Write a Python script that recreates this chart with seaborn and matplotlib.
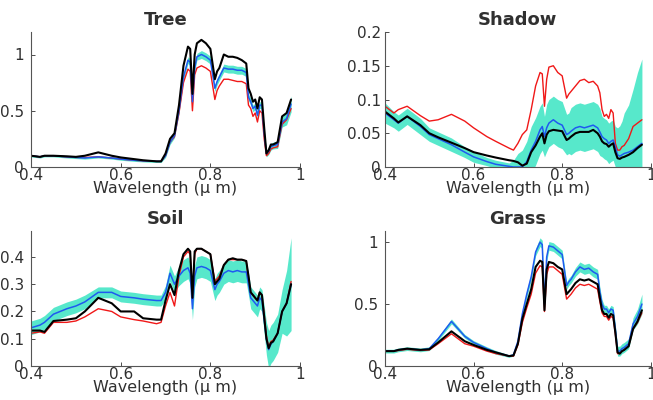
import numpy as np
import matplotlib
matplotlib.use("Agg")
import matplotlib.pyplot as plt
import seaborn as sns
from matplotlib.ticker import FuncFormatter

# common wavelength grid (micrometres)
wl = [0.40, 0.42, 0.43, 0.45, 0.48, 0.50, 0.52, 0.55, 0.58, 0.60,
      0.63, 0.65, 0.68, 0.69, 0.70, 0.71, 0.72, 0.73, 0.74, 0.75,
      0.755, 0.76, 0.765, 0.77, 0.78, 0.79, 0.80, 0.81, 0.815, 0.82,
      0.83, 0.84, 0.85, 0.86, 0.87, 0.88, 0.885, 0.89, 0.895, 0.90,
      0.905, 0.91, 0.915, 0.92, 0.925, 0.93, 0.935, 0.94, 0.95, 0.96,
      0.97, 0.98]

# Tree
tree_mean = [0.10, 0.09, 0.10, 0.10, 0.09, 0.085, 0.08, 0.09, 0.08, 0.07,
             0.06, 0.055, 0.05, 0.05, 0.10, 0.22, 0.28, 0.50, 0.80, 0.95,
             0.93, 0.58, 0.88, 0.98, 1.00, 0.98, 0.95, 0.70, 0.76, 0.80,
             0.88, 0.87, 0.87, 0.86, 0.86, 0.84, 0.62, 0.58, 0.52, 0.54,
             0.46, 0.55, 0.55, 0.30, 0.12, 0.14, 0.18, 0.19, 0.20, 0.40,
             0.43, 0.56]
tree_std = [0.01, 0.01, 0.01, 0.01, 0.01, 0.01, 0.01, 0.01, 0.01, 0.01,
            0.01, 0.01, 0.01, 0.01, 0.015, 0.02, 0.02, 0.02, 0.025, 0.03,
            0.03, 0.03, 0.03, 0.03, 0.035, 0.035, 0.035, 0.03, 0.03, 0.03,
            0.035, 0.035, 0.035, 0.035, 0.035, 0.035, 0.03, 0.03, 0.03, 0.03,
            0.03, 0.03, 0.03, 0.03, 0.03, 0.03, 0.03, 0.03, 0.035, 0.045,
            0.055, 0.07]
tree_red = [0.10, 0.09, 0.10, 0.10, 0.09, 0.085, 0.085, 0.09, 0.08, 0.07,
            0.06, 0.055, 0.05, 0.05, 0.10, 0.22, 0.27, 0.48, 0.75, 0.87,
            0.85, 0.50, 0.82, 0.88, 0.90, 0.88, 0.85, 0.60, 0.68, 0.72,
            0.78, 0.78, 0.77, 0.76, 0.76, 0.74, 0.55, 0.52, 0.45, 0.48,
            0.40, 0.50, 0.48, 0.25, 0.10, 0.12, 0.16, 0.17, 0.18, 0.38,
            0.42, 0.52]
tree_black = [0.10, 0.09, 0.10, 0.10, 0.095, 0.09, 0.10, 0.13, 0.10, 0.085,
              0.07, 0.06, 0.05, 0.05, 0.12, 0.25, 0.30, 0.55, 0.90, 1.07,
              1.05, 0.65, 1.00, 1.10, 1.13, 1.10, 1.05, 0.78, 0.85, 0.88,
              1.00, 0.98, 0.98, 0.97, 0.95, 0.92, 0.70, 0.65, 0.58, 0.60,
              0.52, 0.62, 0.60, 0.35, 0.12, 0.15, 0.20, 0.20, 0.22, 0.45,
              0.48, 0.60]

# Shadow
shadow_mean = [0.080, 0.070, 0.065, 0.075, 0.060, 0.048, 0.042, 0.033, 0.022, 0.015,
               0.008, 0.004, 0.001, 0.0, 0.0, 0.0, 0.008, 0.025, 0.038, 0.055,
               0.060, 0.045, 0.058, 0.065, 0.070, 0.065, 0.062, 0.048, 0.050, 0.053,
               0.058, 0.060, 0.058, 0.060, 0.062, 0.058, 0.052, 0.045, 0.042, 0.040,
               0.035, 0.038, 0.040, 0.030, 0.018, 0.016, 0.018, 0.020, 0.022, 0.025,
               0.030, 0.035]
shadow_std = [0.015, 0.012, 0.012, 0.012, 0.012, 0.010, 0.010, 0.010, 0.008, 0.008,
              0.006, 0.006, 0.005, 0.010, 0.020, 0.025, 0.030, 0.035, 0.035, 0.035,
              0.035, 0.030, 0.035, 0.035, 0.035, 0.035, 0.035, 0.030, 0.030, 0.035,
              0.035, 0.035, 0.035, 0.035, 0.035, 0.035, 0.035, 0.030, 0.030, 0.030,
              0.030, 0.030, 0.030, 0.030, 0.040, 0.045, 0.050, 0.060, 0.070, 0.090,
              0.110, 0.125]
shadow_red = [0.090, 0.080, 0.085, 0.090, 0.076, 0.068, 0.070, 0.078, 0.068, 0.058,
              0.045, 0.038, 0.028, 0.025, 0.035, 0.048, 0.055, 0.085, 0.120, 0.140,
              0.138, 0.090, 0.130, 0.148, 0.150, 0.140, 0.135, 0.102, 0.108, 0.112,
              0.120, 0.128, 0.130, 0.125, 0.127, 0.120, 0.110, 0.085, 0.075, 0.078,
              0.072, 0.085, 0.080, 0.035, 0.025, 0.025, 0.030, 0.032, 0.042, 0.060,
              0.065, 0.070]
shadow_black = [0.082, 0.072, 0.066, 0.075, 0.062, 0.050, 0.044, 0.036, 0.028, 0.022,
                0.017, 0.014, 0.010, 0.009, 0.007, 0.002, 0.005, 0.022, 0.032, 0.045,
                0.050, 0.035, 0.048, 0.053, 0.055, 0.054, 0.053, 0.040, 0.042, 0.045,
                0.050, 0.052, 0.052, 0.052, 0.055, 0.050, 0.045, 0.038, 0.035, 0.034,
                0.030, 0.033, 0.035, 0.022, 0.013, 0.012, 0.014, 0.015, 0.018, 0.022,
                0.028, 0.033]

# Soil
soil_mean = [0.14, 0.15, 0.16, 0.19, 0.21, 0.22, 0.235, 0.27, 0.27, 0.255,
             0.25, 0.245, 0.24, 0.24, 0.27, 0.34, 0.30, 0.33, 0.35, 0.36,
             0.34, 0.21, 0.33, 0.36, 0.365, 0.36, 0.35, 0.28, 0.30, 0.31,
             0.34, 0.35, 0.345, 0.35, 0.345, 0.345, 0.30, 0.25, 0.24, 0.23,
             0.22, 0.25, 0.24, 0.17, 0.10, 0.06, 0.08, 0.09, 0.12, 0.20,
             0.23, 0.30]
soil_std = [0.025, 0.025, 0.025, 0.025, 0.025, 0.025, 0.025, 0.02, 0.02, 0.02,
            0.02, 0.02, 0.02, 0.02, 0.025, 0.03, 0.03, 0.035, 0.04, 0.04,
            0.04, 0.04, 0.04, 0.04, 0.04, 0.04, 0.04, 0.04, 0.04, 0.04,
            0.04, 0.04, 0.04, 0.04, 0.04, 0.04, 0.04, 0.04, 0.04, 0.04,
            0.04, 0.04, 0.04, 0.05, 0.06, 0.07, 0.07, 0.07, 0.07, 0.08,
            0.12, 0.17]
soil_red = [0.12, 0.125, 0.12, 0.16, 0.16, 0.165, 0.18, 0.21, 0.20, 0.18,
            0.17, 0.165, 0.155, 0.16, 0.22, 0.27, 0.22, 0.33, 0.40, 0.42,
            0.41, 0.26, 0.41, 0.43, 0.43, 0.42, 0.41, 0.31, 0.32, 0.33,
            0.37, 0.39, 0.39, 0.39, 0.39, 0.385, 0.32, 0.27, 0.26, 0.25,
            0.24, 0.27, 0.26, 0.19, 0.11, 0.07, 0.09, 0.095, 0.12, 0.20,
            0.23, 0.31]
soil_black = [0.13, 0.13, 0.125, 0.165, 0.17, 0.175, 0.20, 0.25, 0.23, 0.20,
              0.20, 0.175, 0.17, 0.17, 0.24, 0.30, 0.26, 0.35, 0.41, 0.43,
              0.42, 0.25, 0.42, 0.43, 0.43, 0.42, 0.41, 0.30, 0.31, 0.32,
              0.37, 0.39, 0.395, 0.39, 0.39, 0.385, 0.33, 0.27, 0.26, 0.25,
              0.24, 0.27, 0.26, 0.18, 0.10, 0.065, 0.085, 0.09, 0.12, 0.20,
              0.23, 0.30]

# Grass
grass_mean = [0.12, 0.12, 0.13, 0.14, 0.13, 0.14, 0.22, 0.36, 0.24, 0.19,
              0.14, 0.11, 0.08, 0.09, 0.20, 0.42, 0.58, 0.72, 0.92, 1.00,
              0.98, 0.50, 0.88, 0.97, 0.96, 0.93, 0.90, 0.65, 0.68, 0.70,
              0.76, 0.80, 0.78, 0.79, 0.76, 0.74, 0.60, 0.50, 0.46, 0.46,
              0.43, 0.46, 0.45, 0.30, 0.12, 0.12, 0.14, 0.15, 0.18, 0.34,
              0.40, 0.50]
grass_std = [0.015, 0.015, 0.015, 0.015, 0.015, 0.015, 0.015, 0.02, 0.015, 0.015,
             0.015, 0.015, 0.01, 0.01, 0.02, 0.025, 0.03, 0.03, 0.03, 0.035,
             0.035, 0.03, 0.035, 0.035, 0.035, 0.035, 0.035, 0.03, 0.03, 0.03,
             0.035, 0.04, 0.04, 0.04, 0.04, 0.04, 0.035, 0.035, 0.03, 0.03,
             0.03, 0.03, 0.03, 0.03, 0.04, 0.04, 0.04, 0.04, 0.04, 0.05,
             0.06, 0.08]
grass_red = [0.12, 0.12, 0.125, 0.135, 0.125, 0.13, 0.18, 0.26, 0.18, 0.16,
             0.12, 0.10, 0.08, 0.08, 0.17, 0.35, 0.47, 0.58, 0.75, 0.81,
             0.80, 0.44, 0.74, 0.80, 0.80, 0.77, 0.74, 0.54, 0.56, 0.58,
             0.63, 0.66, 0.65, 0.66, 0.64, 0.62, 0.52, 0.43, 0.40, 0.40,
             0.37, 0.40, 0.39, 0.26, 0.10, 0.10, 0.12, 0.13, 0.16, 0.30,
             0.35, 0.43]
grass_black = [0.12, 0.12, 0.13, 0.14, 0.13, 0.135, 0.19, 0.28, 0.20, 0.17,
               0.13, 0.11, 0.08, 0.085, 0.18, 0.38, 0.50, 0.62, 0.80, 0.85,
               0.84, 0.45, 0.78, 0.84, 0.83, 0.80, 0.78, 0.58, 0.60, 0.62,
               0.67, 0.70, 0.69, 0.70, 0.68, 0.66, 0.55, 0.45, 0.42, 0.42,
               0.39, 0.42, 0.41, 0.27, 0.11, 0.10, 0.12, 0.13, 0.16, 0.30,
               0.36, 0.45]

titles = ["Tree", "Shadow", "Soil", "Grass"]
y_limits = [1.2, 0.2, 0.495, 1.09]
y_ticks = [[0, 0.5, 1], [0, 0.05, 0.1, 0.15, 0.2], [0, 0.1, 0.2, 0.3, 0.4], [0, 0.5, 1]]
x_ticks = [0.4, 0.6, 0.8, 1]

sns.set_style("ticks")
plt.rcParams["font.family"] = ["DejaVu Sans"]

fig = plt.figure(figsize=(6.53, 4.0), dpi=100)
positions = [
    [0.0475, 0.5825, 0.412, 0.3375],
    [0.5896, 0.5825, 0.407, 0.3375],
    [0.0475, 0.085, 0.412, 0.3375],
    [0.5896, 0.085, 0.407, 0.3375],
]
panels = [
    (tree_mean, tree_std, tree_red, tree_black),
    (shadow_mean, shadow_std, shadow_red, shadow_black),
    (soil_mean, soil_std, soil_red, soil_black),
    (grass_mean, grass_std, grass_red, grass_black),
]
ylabel_pad = [5, 3, 5, 5]

band_color = "#45e6c6"
text_color = "#303030"

for i, (mean, std, red, black) in enumerate(panels):
    ax = fig.add_axes(positions[i])
    m = np.array(mean)
    s = np.array(std)
    ax.fill_between(wl, m - s, m + s, color=band_color, lw=0, alpha=0.9)
    sns.lineplot(x=wl, y=red, ax=ax, color="#f01818", lw=1.0)
    sns.lineplot(x=wl, y=mean, ax=ax, color="#1f5af0", lw=1.1)
    sns.lineplot(x=wl, y=black, ax=ax, color="black", lw=1.5)

    ax.set_xlim(0.4, 1.0)
    ax.set_ylim(0, y_limits[i])
    ax.set_xticks(x_ticks)
    ax.set_yticks(y_ticks[i])
    ax.xaxis.set_major_formatter(FuncFormatter(lambda v, p: f"{v:g}"))
    ax.yaxis.set_major_formatter(FuncFormatter(lambda v, p: f"{v:g}"))
    ax.tick_params(direction="in", length=3, width=0.6, labelsize=11,
                   colors=text_color)
    ax.tick_params(axis="x", pad=0.5)
    ax.tick_params(axis="y", pad=ylabel_pad[i])
    for side in ["top", "right"]:
        ax.spines[side].set_visible(False)
    for side in ["left", "bottom"]:
        ax.spines[side].set_color("#555555")
        ax.spines[side].set_linewidth(0.8)
    ax.set_title(titles[i], fontsize=13, fontweight="bold", color=text_color, pad=5)
    ax.set_xlabel("Wavelength (\u03bc m)", fontsize=11.5, color=text_color, labelpad=-1)
    ax.set_ylabel("")

fig.savefig("out.png", dpi=100)
